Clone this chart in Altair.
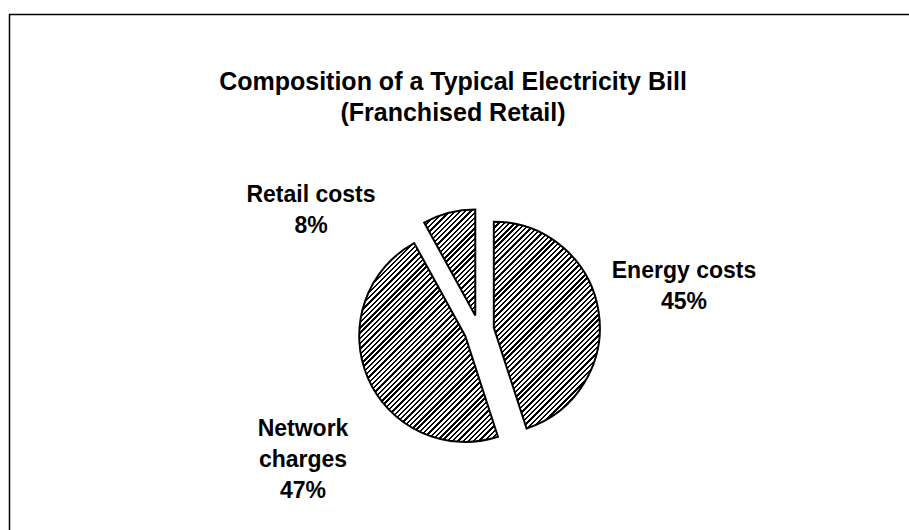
import math
import altair as alt
import pandas as pd

# ---- data ----
categories = ["Energy costs", "Network charges", "Retail costs"]
shares = [45, 47, 8]
title_lines = ["Composition of a Typical Electricity Bill", "(Franchised Retail)"]

# ---- layout / style ----
W, H = 909, 530
CX, CY = 479, 330          # pie centre (px)
R = 106                    # pie radius (px)
EXPLODE = 15               # explosion distance (px)
FONT = "Liberation Sans"
LABEL_SIZE = 23
LABEL_LH = 31
label_anchor = {           # centre x, first baseline y
    "Energy costs": (684, 278),
    "Network charges": (303, 436),
    "Retail costs": (311, 202),
}

df = pd.DataFrame({"category": categories, "share": shares})
total = float(sum(shares))


def wedge_bbox(a0, a1, r):
    pts = [(0.0, 0.0)]
    for a in (a0, a1):
        pts.append((r * math.sin(a), -r * math.cos(a)))
    for k in range(0, 9):
        a = k * math.pi / 2
        if a0 < a < a1:
            pts.append((r * math.sin(a), -r * math.cos(a)))
    xs = [p[0] for p in pts]
    ys = [p[1] for p in pts]
    return max(xs) - min(xs), max(ys) - min(ys)


def hatch(w, h, period=5.3, ink=0.45):
    """Linear gradient (bbox units) giving '/' stripes at 45 degrees."""
    span = w + h
    c = span / (w / h + h / w)
    n = max(1, int(round(span / period)))
    stops = []
    for i in range(n):
        a = i / n
        b = (i + ink) / n
        e = (i + 1) / n
        stops += [
            alt.GradientStop(offset=a, color="#000000"),
            alt.GradientStop(offset=b, color="#000000"),
            alt.GradientStop(offset=b, color="#ffffff"),
            alt.GradientStop(offset=e, color="#ffffff"),
        ]
    return alt.LinearGradient(gradient="linear", x1=0, y1=0, x2=c / h, y2=c / w, stops=stops)


theta_scale = alt.Scale(domain=[0, total], range=[0, 2 * math.pi])
x_scale = alt.Scale(domain=[-1, 1], range=[CX - EXPLODE, CX + EXPLODE])
y_scale = alt.Scale(domain=[-1, 1], range=[CY - EXPLODE, CY + EXPLODE])


def base():
    return (
        alt.Chart(df)
        .transform_window(cum="sum(share)", frame=[None, 0])
        .transform_calculate(
            start="datum.cum - datum.share",
            end="datum.cum",
            mid=f"(datum.cum - datum.share / 2) / {total} * 2 * PI",
        )
        .transform_calculate(ex="sin(datum.mid)", ey="-cos(datum.mid)")
    )


layers = []
cum = 0.0
for cat, v in zip(categories, shares):
    a0 = cum / total * 2 * math.pi
    a1 = (cum + v) / total * 2 * math.pi
    cum += v
    w, h = wedge_bbox(a0, a1, R)
    arc = (
        base()
        .transform_filter(alt.datum.category == cat)
        .mark_arc(fill=hatch(w, h), stroke="#000000", strokeWidth=2, radius=R)
        .encode(
            theta=alt.Theta("start:Q", scale=theta_scale),
            theta2="end:Q",
            x=alt.X("ex:Q", scale=x_scale, axis=None),
            y=alt.Y("ey:Q", scale=y_scale, axis=None),
        )
    )
    layers.append(arc)

for cat in categories:
    lx, ly = label_anchor[cat]
    if cat == "Network charges":
        expr = "replace(datum.category, ' ', '|') + '|' + datum.share + '%'"
    else:
        expr = "datum.category + '|' + datum.share + '%'"
    txt = (
        base()
        .transform_filter(alt.datum.category == cat)
        .transform_calculate(label=expr)
        .mark_text(
            font=FONT, fontSize=LABEL_SIZE, fontWeight="bold", color="#000000",
            align="center", baseline="alphabetic", lineBreak="|", lineHeight=LABEL_LH,
        )
        .encode(text="label:N", x=alt.value(lx), y=alt.value(ly))
    )
    layers.append(txt)

one = alt.Data(values=[{"k": 1}])

frame = alt.Chart(one).mark_rect(
    fillOpacity=0, stroke="#000000", strokeWidth=1.5
).encode(x=alt.value(9.5), x2=alt.value(W + 50), y=alt.value(14.5), y2=alt.value(H + 50))

title = alt.Chart(one).mark_text(
    text=title_lines, font=FONT, fontSize=25, fontWeight="bold", color="#000000",
    align="center", baseline="alphabetic", lineHeight=31,
).encode(x=alt.value(453), y=alt.value(90))

chart = (
    alt.layer(frame, title, *layers)
    .properties(width=W, height=H, padding=0, autosize=alt.AutoSizeParams(type="none"), background="#ffffff")
    .configure_view(strokeWidth=0)
)

chart.save("out.html", embed_options={"renderer": "svg", "actions": False})
